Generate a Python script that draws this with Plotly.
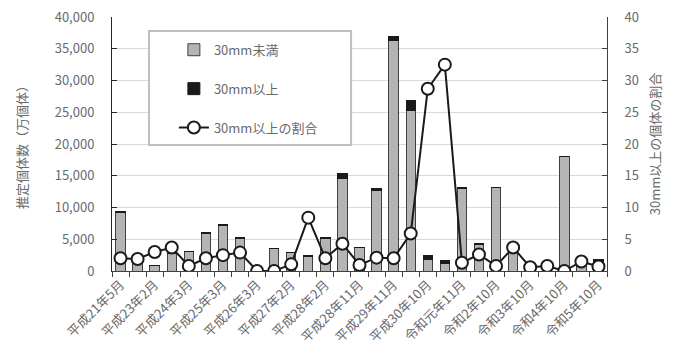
import plotly.graph_objects as go

categories = [
    "平成21年5月", "平成22年5月", "平成23年2月", "平成23年11月", "平成24年3月",
    "平成24年11月", "平成25年3月", "平成25年11月", "平成26年3月", "平成26年11月",
    "平成27年2月", "平成27年11月", "平成28年2月", "平成28年5月", "平成28年11月",
    "平成29年5月", "平成29年11月", "平成30年5月", "平成30年10月", "令和元年5月",
    "令和元年11月", "令和2年5月", "令和2年10月", "令和3年5月", "令和3年10月",
    "令和4年5月", "令和4年10月", "令和5年5月", "令和5年10月",
]
under30 = [9210, 1470, 870, 2700, 3080, 5880, 7120, 5050, 60, 3500,
           2870, 2290, 5100, 14640, 3665, 12680, 36260, 25310, 1760, 1130,
           13030, 4190, 13095, 2890, 600, 500, 18000, 1180, 1450]
over30 = [190, 30, 30, 100, 25, 120, 180, 150, 0, 0,
          30, 210, 100, 660, 35, 270, 740, 1590, 710, 550,
          170, 110, 105, 110, 0, 0, 0, 20, 350]
ratio = [2.0, 1.9, 3.0, 3.7, 0.8, 2.0, 2.5, 2.9, 0.0, 0.0,
         1.05, 8.4, 2.0, 4.3, 0.95, 2.1, 2.0, 5.9, 28.7, 32.5,
         1.3, 2.6, 0.8, 3.7, 0.6, 0.8, 0.0, 1.5, 0.7]

xpos = list(range(len(categories)))
label_idx = xpos[::2]

FONT = "Noto Sans CJK JP"
GRAY = "#6a6a6a"

fig = go.Figure()
fig.add_trace(go.Bar(
    x=xpos, y=under30, name="30mm未満", width=0.55,
    marker=dict(color="#b4b4b4", line=dict(color="#404040", width=1)),
    legendgroup="a", yaxis="y",
))
fig.add_trace(go.Bar(
    x=xpos, y=over30, name="30mm以上", width=0.55,
    marker=dict(color="#1a1a1a", line=dict(color="#1a1a1a", width=1)),
    legendgroup="b", yaxis="y",
))
fig.add_trace(go.Scatter(
    x=xpos, y=ratio, name="30mm以上の割合", mode="lines+markers",
    line=dict(color="#1a1a1a", width=2),
    marker=dict(symbol="circle", size=12, color="white",
                line=dict(color="#1a1a1a", width=2)),
    legendgroup="c", yaxis="y2",
))

fig.update_layout(
    width=675, height=345,
    margin=dict(l=112, r=68, t=17, b=74),
    paper_bgcolor="white", plot_bgcolor="white",
    barmode="stack",
    font=dict(family=FONT, color=GRAY, size=12),
    xaxis=dict(
        range=[-0.5, len(categories) - 0.5],
        tickmode="array", tickvals=label_idx,
        ticktext=[categories[i] for i in label_idx],
        tickangle=-45, ticks="", showgrid=False,
        showline=True, linecolor="#404040", linewidth=1,
        tickfont=dict(size=13, color=GRAY),
        minor=dict(ticks="outside", tick0=0.5, dtick=1, ticklen=5,
                   tickcolor="#404040", showgrid=False),
        zeroline=False, automargin=False,
    ),
    yaxis=dict(
        range=[0, 40000], dtick=5000, tickformat=",d",
        showgrid=True, gridcolor="#d9d9d9", gridwidth=1,
        showline=True, linecolor="#262626", linewidth=1,
        ticks="inside", ticklen=5, tickcolor="#262626",
        ticklabelstandoff=14,
        tickfont=dict(size=13, color=GRAY),
        title=dict(text="推定個体数（万個体）", font=dict(size=13, color=GRAY), standoff=24),
        zeroline=False, automargin=False,
    ),
    yaxis2=dict(
        range=[0, 40], dtick=5, overlaying="y", side="right",
        showgrid=False, showline=True, linecolor="#404040", linewidth=1,
        ticks="inside", ticklen=5, tickcolor="#404040",
        ticklabelstandoff=14,
        tickfont=dict(size=13, color=GRAY),
        title=dict(text="30mm以上の個体の割合", font=dict(size=13, color=GRAY), standoff=12),
        zeroline=False, automargin=False,
    ),
    legend=dict(
        x=0.125, y=0.93, xanchor="left", yanchor="top",
        traceorder="grouped", tracegroupgap=19,
        bgcolor="rgba(0,0,0,0)", borderwidth=0,
        font=dict(size=13, color=GRAY),
    ),
    shapes=[dict(
        type="rect", xref="paper", yref="paper",
        x0=0.0747, x1=0.483, y0=0.496, y1=0.945,
        line=dict(color="#bfbfbf", width=2), fillcolor="white", layer="above",
    )],
)

fig.write_html("out.html")
